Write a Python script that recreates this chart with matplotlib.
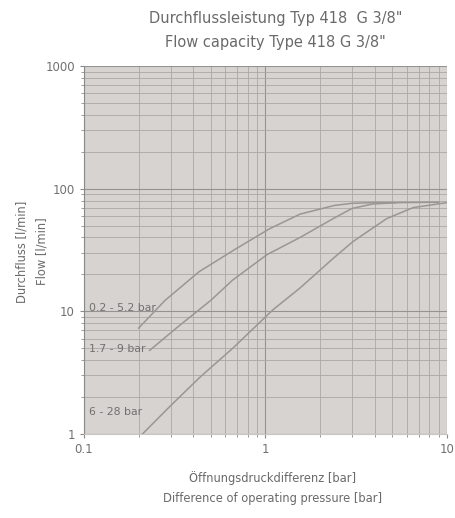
import matplotlib
matplotlib.use("Agg")
import matplotlib.pyplot as plt
from matplotlib.ticker import NullFormatter

# Data
x_a = [0.2, 0.28, 0.43, 0.67, 1.05, 1.55, 2.4, 3.0, 4.0, 5.2]
y_a = [7.3, 12.3, 21.0, 31.6, 47.0, 62.0, 73.0, 76.0, 77.0, 77.0]
x_b = [0.23, 0.33, 0.5, 0.66, 1.02, 1.55, 2.36, 3.0, 3.9, 5.5, 9.0]
y_b = [4.8, 7.5, 12.3, 18.0, 29.0, 40.0, 57.0, 69.0, 75.0, 77.0, 77.5]
x_c = [0.21, 0.3, 0.435, 0.66, 1.1, 1.55, 2.36, 3.03, 4.65, 6.5, 10.0]
y_c = [1.0, 1.7, 2.9, 5.0, 10.3, 15.5, 27.0, 37.0, 57.0, 70.0, 77.0]
labels = ["0.2 - 5.2 bar", "1.7 - 9 bar", "6 - 28 bar"]
label_y = [10.6, 4.9, 1.5]
x_ticks = [0.1, 1, 10]
x_tick_labels = ["0.1", "1", "10"]
y_ticks = [1, 10, 100, 1000]
y_tick_labels = ["1", "10", "100", "1000"]

fig = plt.figure(figsize=(4.55, 5.18), dpi=100)
ax = fig.add_axes([0.1846, 0.1622, 0.7978, 0.7104])
ax.set_xscale("log")
ax.set_yscale("log")
ax.set_xlim(0.1, 10)
ax.set_ylim(1, 1000)
ax.set_facecolor("#d6d3d0")

txtc = "#707070"
linec = "#9a9694"
for xs, ys in [(x_a, y_a), (x_b, y_b), (x_c, y_c)]:
    ax.plot(xs, ys, color=linec, lw=1.1)

for lab, yv in zip(labels, label_y):
    ax.text(0.106, yv, lab, fontsize=7.8, color=txtc, va="center", ha="left")

ax.set_xticks(x_ticks)
ax.set_xticklabels(x_tick_labels)
ax.set_yticks(y_ticks)
ax.set_yticklabels(y_tick_labels)
ax.xaxis.set_minor_formatter(NullFormatter())
ax.yaxis.set_minor_formatter(NullFormatter())
ax.grid(True, which="major", color="#959290", lw=0.8)
ax.grid(True, which="minor", color="#aaa7a5", lw=0.6)
ax.tick_params(which="both", colors="#8a8a8a", labelcolor=txtc, labelsize=8.5, length=3)
ax.tick_params(which="minor", length=2)
for s in ax.spines.values():
    s.set_visible(False)
ax.spines["left"].set_visible(True)
ax.spines["left"].set_color("#8a8a8a")
ax.spines["bottom"].set_visible(True)
ax.spines["bottom"].set_color("#c8c6c4")

fig.text(0.605, 0.965, "Durchflussleistung Typ 418  G 3/8\"", ha="center", va="center",
         fontsize=10.5, color="#6a6a6a")
fig.text(0.605, 0.917, "Flow capacity Type 418 G 3/8\"", ha="center", va="center",
         fontsize=10.5, color="#6a6a6a")
fig.text(0.598, 0.077, "Öffnungsdruckdifferenz [bar]", ha="center", va="center",
         fontsize=8.3, color="#6a6a6a")
fig.text(0.598, 0.037, "Difference of operating pressure [bar]", ha="center", va="center",
         fontsize=8.3, color="#6a6a6a")
fig.text(0.048, 0.513, "Durchfluss [l/min]", rotation=90, ha="center", va="center",
         fontsize=8.3, color="#6a6a6a")
fig.text(0.092, 0.515, "Flow [l/min]", rotation=90, ha="center", va="center",
         fontsize=8.3, color="#6a6a6a")

fig.savefig("out.png", dpi=100, facecolor="white")
